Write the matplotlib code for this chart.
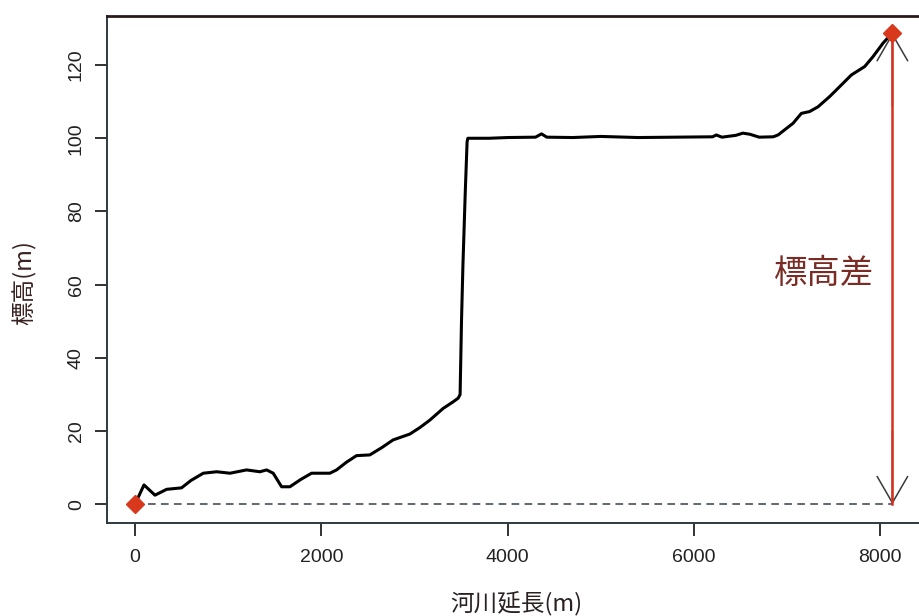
import matplotlib
matplotlib.use('Agg')
import matplotlib.pyplot as plt

# river profile
dist = [0, 97, 215, 340, 500, 600, 733, 877, 1020, 1198, 1341, 1413, 1484,
        1574, 1663, 1780, 1896, 2092, 2164, 2270, 2378, 2521, 2650, 2771,
        2951, 3060, 3165, 3308, 3415, 3469, 3490, 3505, 3520, 3545, 3565,
        3573, 3800, 4000, 4300, 4364, 4420, 4700, 5000, 5400, 5800, 6200,
        6240, 6300, 6450, 6525, 6600, 6700, 6850, 6903, 7064, 7153, 7242,
        7332, 7457, 7564, 7690, 7833, 7922, 8030, 8130]
elev = [0, 5.3, 2.5, 4.1, 4.5, 6.5, 8.5, 8.9, 8.5, 9.4, 8.9, 9.4, 8.5,
        4.8, 4.8, 6.8, 8.5, 8.5, 9.4, 11.5, 13.3, 13.5, 15.5, 17.6,
        19.2, 21, 23, 26.2, 28, 29, 30, 50, 65, 85, 99,
        100, 100, 100.2, 100.3, 101.2, 100.3, 100.2, 100.5, 100.2, 100.3, 100.4,
        100.9, 100.3, 100.8, 101.4, 101.1, 100.3, 100.4, 100.9, 104.1, 106.8, 107.3,
        108.6, 111.4, 114.1, 117.3, 119.6, 122.3, 126, 128.8]

x_ticks = [0, 2000, 4000, 6000, 8000]
y_ticks = [0, 20, 40, 60, 80, 100, 120]
diff_label = '標高差'
x_label = '河川延長(m)'
y_label = '標高(m)'

cjk = ['Noto Sans CJK JP', 'DejaVu Sans']
plt.rcParams['font.family'] = ['Liberation Sans', 'DejaVu Sans']

fig = plt.figure(figsize=(9.19, 6.16), dpi=100)
# the right part of the frame falls outside the picture, as in the original
ax = fig.add_axes([107 / 919, 93 / 616, 818 / 919, 507 / 616])

x0, x1 = dist[0], dist[-1]
y0, y1 = elev[0], elev[-1]

ax.plot([x0, x1], [y0, y0], ls=(0, (5, 3.5)), color='#34404c', lw=1.1, zorder=2)
ax.plot(dist, elev, color='black', lw=2.2, zorder=3)

# arrow heads first, red shaft on top
for tip, tail in [((x1, y0), (x1, y0 + 20)), ((x1, y1), (x1, y1 - 20))]:
    ax.annotate('', xy=tip, xytext=tail,
                arrowprops=dict(arrowstyle='->,head_length=1.9,head_width=1.1',
                                color='#3a3a3a', lw=1.1, shrinkA=0, shrinkB=0),
                zorder=4)
ax.plot([x1, x1], [y0, y1], color='#d8301e', lw=1.8, zorder=5)

ax.plot([x0, x1], [y0, y1], ls='none', marker='D', ms=9.5,
        color='#d8381c', zorder=6)

ax.text(7400, 63, diff_label, family=cjk, fontsize=24, color='#7a2c24',
        ha='center', va='center')

ax.set_xlim(-300, 8480)
ax.set_ylim(-5.1, 133.4)
ax.set_xticks(x_ticks)
ax.set_yticks(y_ticks)
ax.tick_params(length=9, width=1.3, labelsize=14, color='#222222',
               labelcolor='#222222')
ax.tick_params(axis='x', pad=10)
ax.tick_params(axis='y', pad=7, labelrotation=90)
for lbl in ax.get_yticklabels():
    lbl.set_va('center')

for side in ['left', 'bottom', 'right']:
    ax.spines[side].set_color('#2e3a40')
    ax.spines[side].set_linewidth(1.4)
ax.spines['top'].set_color('#2a1a18')
ax.spines['top'].set_linewidth(2)

fig.text(516 / 919, 1 - 603 / 616, x_label, family=cjk, fontsize=17,
         color='#2a2222', ha='center', va='center')
fig.text(24 / 919, 1 - 283 / 616, y_label, family=cjk, fontsize=17,
         color='#3a2222', ha='center', va='center', rotation=90)

fig.savefig('out.png', dpi=100)
